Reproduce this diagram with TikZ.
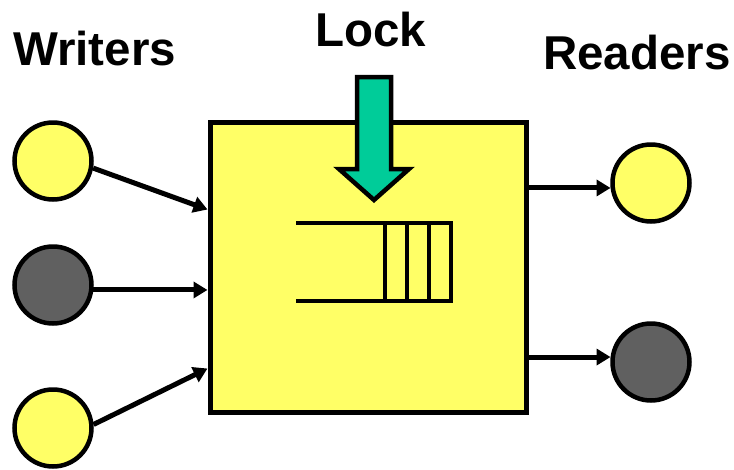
\documentclass[tikz,border=0pt]{standalone}
\usepackage{fontspec}
\setmainfont{Liberation Sans}
\usetikzlibrary{arrows.meta}
\definecolor{padyellow}{HTML}{FFFF66}
\definecolor{padgray}{HTML}{606060}
\definecolor{lockgreen}{HTML}{00CC99}
\begin{document}
\begin{tikzpicture}[x=1pt, y=-1pt,
  heading/.style={font=\fontsize{47.5}{52}\selectfont\bfseries, inner sep=0pt, anchor=base west},
  proc/.style={circle, draw=black, line width=4.5pt, minimum size=77pt, inner sep=0pt},
  active/.style={proc, fill=padyellow},
  idle/.style={proc, fill=padgray},
  flow/.style={line width=5pt, -{Triangle[length=14pt, width=16pt]}},
  monitor/.style={draw=black, fill=padyellow, line width=5pt},
  queueline/.style={line width=4.5pt, line cap=rect}
]
\useasboundingbox (0,0) rectangle (734,469);

% headings
\node[heading] (tw) at (13,65) {Writers};
\node[heading] (tl) at (315,46) {Lock};
\node[heading] (tr) at (543,69) {Readers};

% shared object
\node[monitor, rectangle, minimum width=316pt, minimum height=290pt, inner sep=0pt] (box) at (368,267) {};

% lock arrow pointing into the object
\filldraw[fill=lockgreen, draw=black, line width=4.5pt, miter limit=10]
  (357,77) -- (391,77) -- (391,169) -- (409,169) -- (374,200)
  -- (339,169) -- (357,169) -- cycle;

% waiting queue
\draw[queueline] (298,223) -- (451,223) -- (451,301) -- (298,301);
\foreach \qx in {385,407,429}
  \draw[line width=4.5pt] (\qx,223) -- (\qx,301);

% writers
\node[active] (w1) at (53,161) {};
\node[idle]   (w2) at (53,285) {};
\node[active] (w3) at (53,428) {};

% readers
\node[active] (r1) at (651,183) {};
\node[idle]   (r2) at (651,362) {};

% connectors
\draw[flow] (w1.-10) -- ([yshift=-90pt]box.north west);
\draw[flow] (w2.-7) -- (w2.-7 -| box.west);
\draw[flow] (w3.5) -- ([yshift=46pt]box.south west);
\draw[flow] (r1.187 -| box.east) -- (r1.187);
\draw[flow] (r2.173 -| box.east) -- (r2.173);
\end{tikzpicture}
\end{document}
